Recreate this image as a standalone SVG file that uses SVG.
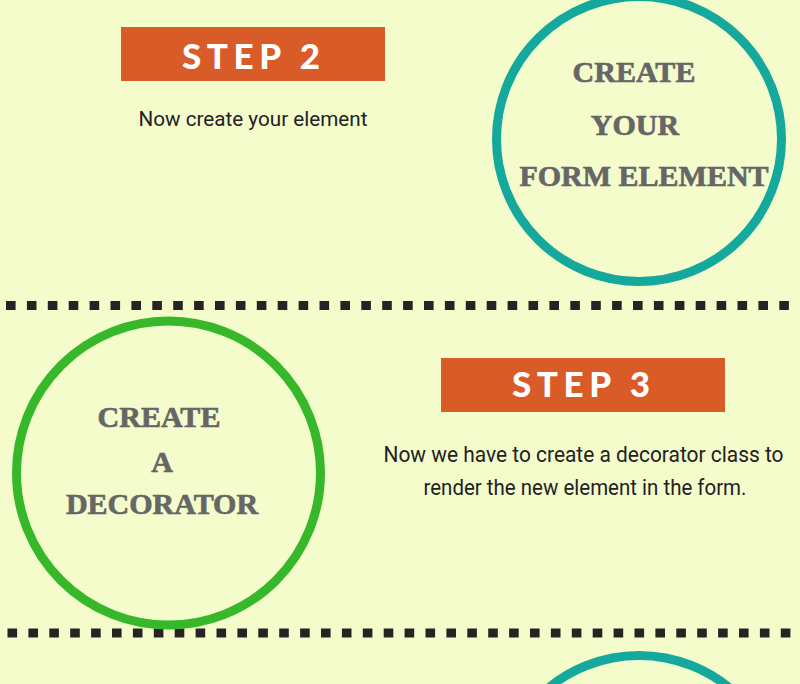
<svg xmlns="http://www.w3.org/2000/svg" width="800" height="684" viewBox="0 0 800 684">
<style>
.bg{fill:#F4FCCC}
.step{fill:#D95B27}
.steptxt{font-family:Lato,"Open Sans",sans-serif;font-weight:900;font-size:35px;fill:#FFFFFF;text-anchor:middle}
.body{font-family:Roboto,"Liberation Sans",sans-serif;fill:#222222;text-anchor:middle}
.ring{fill:none;stroke-width:9}
.ctxt{font-family:"Liberation Serif",serif;font-weight:bold;font-size:30px;fill:#666666;stroke:#666666;stroke-width:0.7;text-anchor:middle}
.dash{stroke:#262322;stroke-width:9;stroke-dasharray:9.6 11.3;fill:none}
</style>
<rect class="bg" x="0" y="0" width="800" height="684"/>
<g id="connectors">
<line class="dash" x1="6" y1="305.5" x2="790" y2="305.5"/>
<line class="dash" x1="7.5" y1="633" x2="792" y2="633"/>
</g>
<g id="step2">
<rect class="step" x="121" y="27" width="264" height="54"/>
<text class="steptxt" x="251" y="68.5" textLength="138" lengthAdjust="spacing">STEP 2</text>
<text class="body" x="253" y="126" font-size="21" textLength="229" lengthAdjust="spacingAndGlyphs">Now create your element</text>
</g>
<g id="circle-form-element">
<circle class="ring" cx="639" cy="139" r="142.5" stroke="#15A89C"/>
<text class="ctxt" x="634" y="82">CREATE</text>
<text class="ctxt" x="635" y="135">YOUR</text>
<text class="ctxt" x="644" y="186">FORM ELEMENT</text>
</g>
<g id="circle-decorator">
<circle class="ring" cx="168.5" cy="473" r="152" stroke="#37B72A"/>
<text class="ctxt" x="159" y="427">CREATE</text>
<text class="ctxt" x="162" y="472">A</text>
<text class="ctxt" x="162" y="514">DECORATOR</text>
</g>
<g id="step3">
<rect class="step" x="441" y="358" width="284" height="54"/>
<text class="steptxt" x="581" y="397" textLength="138" lengthAdjust="spacing">STEP 3</text>
<text class="body" x="583.5" y="462" font-size="22" textLength="400" lengthAdjust="spacingAndGlyphs">Now we have to create a decorator class to</text>
<text class="body" x="585" y="494.5" font-size="22" textLength="323" lengthAdjust="spacingAndGlyphs">render the new element in the form.</text>
</g>
<g id="circle-next">
<circle class="ring" cx="639" cy="798" r="142.5" stroke="#15A89C"/>
</g>
</svg>
